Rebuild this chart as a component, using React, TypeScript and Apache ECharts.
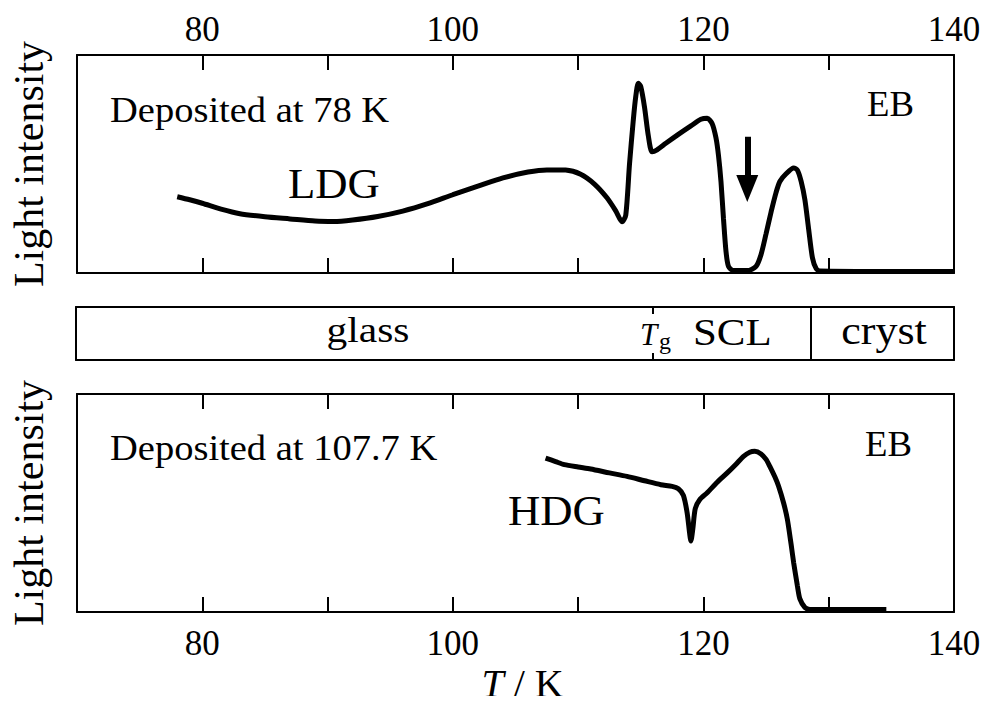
import React, { useEffect, useRef } from "react";
import * as echarts from "echarts";

// Temperature ticks (K)
const xMin = 70;
const xMax = 140;
const xStep = 10;
const labelStep = 20;

// LDG sample deposited at 78 K: [T (K), light intensity (a.u.)]
const ldgCurve: [number, number][] = [
  [78.0, 35.0], [79.0, 33.6], [80.0, 32.0], [81.5, 29.3], [83.0, 27.2], [85.0, 25.8],
  [87.0, 24.8], [89.0, 23.8], [90.5, 23.6], [92.0, 24.3], [94.0, 25.9], [96.0, 28.4],
  [98.0, 31.8], [100.0, 35.9], [102.0, 39.8], [104.0, 43.6], [106.0, 46.3], [107.5, 47.3],
  [109.0, 47.2], [110.2, 45.3], [111.3, 40.8], [112.3, 34.5], [113.0, 28.5], [113.5, 23.5],
  [113.8, 26.5], [114.1, 50.0], [114.4, 70.0], [114.6, 81.0], [114.8, 87.0], [115.0, 85.5],
  [115.3, 76.0], [115.6, 63.0], [115.9, 55.6], [116.3, 56.5], [117.0, 59.5], [118.0, 63.6],
  [119.0, 67.5], [119.8, 70.5], [120.3, 71.0], [120.7, 68.5], [121.0, 62.0], [121.2, 54.0],
  [121.4, 42.0], [121.6, 25.0], [121.8, 10.0], [122.0, 3.0], [122.4, 1.1], [123.5, 1.1],
  [124.2, 3.0], [124.6, 8.5], [125.0, 18.0], [125.4, 28.0], [125.8, 37.0], [126.1, 42.0],
  [126.6, 45.5], [127.2, 48.2], [127.5, 47.2], [127.8, 42.0], [128.1, 33.5], [128.4, 20.0],
  [128.7, 7.0], [129.0, 2.0], [129.3, 0.9], [135.0, 0.7], [140.0, 0.7],
];

// HDG sample deposited at 107.7 K
const hdgCurve: [number, number][] = [
  [107.4, 70.6], [108.2, 69.0], [108.9, 67.6], [110.0, 66.5], [111.0, 65.6], [112.5, 63.8],
  [113.9, 62.2], [115.3, 60.2], [116.6, 58.4], [117.5, 57.6], [118.0, 56.5], [118.4, 53.5],
  [118.7, 45.5], [118.9, 36.0], [119.0, 32.6], [119.15, 38.0], [119.35, 47.5], [119.7, 51.5],
  [120.3, 54.7], [121.1, 59.5], [121.9, 63.8], [122.6, 67.8], [123.2, 71.4], [123.7, 73.3],
  [124.1, 73.7], [124.6, 72.5], [125.0, 70.0], [125.3, 66.8], [125.7, 62.0], [126.0, 57.7],
  [126.4, 50.0], [126.7, 42.5], [127.0, 31.0], [127.2, 22.7], [127.5, 12.0], [127.7, 6.0],
  [128.1, 2.1], [128.5, 1.2], [131.0, 1.1], [134.6, 1.1],
];

// Phase boundaries (K)
const tg = 116.0;
const tCryst = 128.6;

// Arrow in the top panel: T, shaft top, shaft bottom, head centre
const arrowT = 123.5;
const arrowShaftTop = 62.5;
const arrowShaftBottom = 44.0;
const arrowHead = 38.8;

const FONT = "'Liberation Serif', 'Times New Roman', serif";

export default function App() {
  const ref = useRef<HTMLDivElement>(null);

  useEffect(() => {
    if (!ref.current) return;
    const chart = echarts.init(ref.current, null, { renderer: "svg" });

    const lineBlack = { show: true, onZero: false, lineStyle: { color: "#000", width: 2 } };
    const tickCommon = {
      show: true,
      inside: true,
      length: 15,
      lineStyle: { color: "#000", width: 2 },
    };
    const labelFmt = (v: number) => (v % labelStep === 0 ? String(v) : "");
    const xBase = {
      type: "value" as const,
      min: xMin,
      max: xMax,
      interval: xStep,
      splitLine: { show: false },
      axisLine: lineBlack,
    };
    const yBase = {
      type: "value" as const,
      min: 0,
      max: 100,
      splitLine: { show: false },
      axisLine: lineBlack,
      axisTick: { show: false },
      axisLabel: { show: false },
    };
    const gridBase = { left: 76, right: 34 };
    const txt = (
      text: string,
      x: number,
      y: number,
      size: number,
      sx = 1,
      align = "left",
      italic = false
    ) => ({
      type: "text",
      x,
      y,
      scaleX: sx,
      silent: true,
      style: {
        text,
        fill: "#000",
        fontSize: size,
        fontFamily: FONT,
        fontStyle: italic ? "italic" : "normal",
        align,
        verticalAlign: "middle",
      },
    });
    const yName = {
      name: "Light intensity",
      nameLocation: "middle",
      nameGap: 27,
      nameTextStyle: { fontSize: 42, fontFamily: FONT, color: "#000" },
    };

    chart.setOption({
      animation: false,
      backgroundColor: "#fff",
      textStyle: { fontFamily: FONT, color: "#000" },
      grid: [
        { ...gridBase, top: 55, height: 218 },
        { ...gridBase, top: 307, height: 53 },
        { ...gridBase, top: 394, height: 219 },
      ],
      xAxis: [
        {
          ...xBase,
          gridIndex: 0,
          position: "top",
          axisTick: tickCommon,
          axisLabel: {
            show: true,
            formatter: labelFmt,
            fontSize: 35,
            fontFamily: FONT,
            color: "#000",
            margin: 8,
          },
        },
        { ...xBase, gridIndex: 0, position: "bottom", axisTick: tickCommon, axisLabel: { show: false } },
        { ...xBase, gridIndex: 1, position: "bottom", axisTick: { show: false }, axisLabel: { show: false } },
        { ...xBase, gridIndex: 1, position: "top", axisTick: { show: false }, axisLabel: { show: false } },
        { ...xBase, gridIndex: 2, position: "top", axisTick: tickCommon, axisLabel: { show: false } },
        {
          ...xBase,
          gridIndex: 2,
          position: "bottom",
          axisTick: tickCommon,
          axisLabel: {
            show: true,
            formatter: labelFmt,
            fontSize: 35,
            fontFamily: FONT,
            color: "#000",
            margin: 14,
          },
          name: "{i|T} / K",
          nameLocation: "middle",
          nameGap: 51,
          nameTextStyle: {
            fontSize: 40,
            fontFamily: FONT,
            color: "#000",
            padding: [0, 0, 0, 14],
            rich: {
              i: { fontSize: 40, fontFamily: FONT, fontStyle: "italic", color: "#000" },
            },
          },
        },
      ],
      yAxis: [
        { ...yBase, gridIndex: 0, position: "left", ...yName },
        { ...yBase, gridIndex: 0, position: "right" },
        { ...yBase, gridIndex: 1, position: "left" },
        { ...yBase, gridIndex: 1, position: "right" },
        { ...yBase, gridIndex: 2, position: "left", ...yName },
        { ...yBase, gridIndex: 2, position: "right" },
      ],
      series: [
        {
          type: "line",
          name: "LDG",
          xAxisIndex: 0,
          yAxisIndex: 0,
          data: ldgCurve,
          showSymbol: false,
          smooth: 0.25,
          lineStyle: { color: "#000", width: 5 },
          markLine: {
            silent: true,
            animation: false,
            symbol: ["none", "none"],
            label: { show: false },
            lineStyle: { color: "#000", width: 6, type: "solid" },
            data: [[{ coord: [arrowT, arrowShaftTop] }, { coord: [arrowT, arrowShaftBottom] }]],
          },
        },
        {
          type: "scatter",
          name: "arrow",
          xAxisIndex: 0,
          yAxisIndex: 0,
          data: [[arrowT, arrowHead]],
          symbol: "triangle",
          symbolRotate: 180,
          symbolSize: [22, 27],
          itemStyle: { color: "#000", opacity: 1 },
          silent: true,
        },
        {
          type: "line",
          name: "phases",
          xAxisIndex: 2,
          yAxisIndex: 2,
          data: [[xMin, 50]],
          showSymbol: false,
          lineStyle: { opacity: 0 },
          markLine: {
            silent: true,
            animation: false,
            symbol: ["none", "none"],
            label: { show: false },
            lineStyle: { color: "#000", width: 2, type: "solid" },
            data: [
              [{ coord: [tCryst, 0] }, { coord: [tCryst, 100] }],
              [{ coord: [tg, 0] }, { coord: [tg, 13] }],
              [{ coord: [tg, 87] }, { coord: [tg, 100] }],
            ],
          },
        },
        {
          type: "line",
          name: "HDG",
          xAxisIndex: 5,
          yAxisIndex: 4,
          data: hdgCurve,
          showSymbol: false,
          smooth: 0.25,
          lineStyle: { color: "#000", width: 5 },
        },
      ],
      graphic: [
        txt("Deposited at 78 K", 110, 110, 36, 1.07),
        txt("EB", 867, 104, 35, 1.05),
        txt("LDG", 288, 183, 43, 1.04),
        txt("glass", 368, 329, 36, 1.15, "center"),
        txt("T", 640, 334, 31, 1, "left", true),
        txt("g", 659, 341, 24),
        txt("SCL", 693, 333, 37, 1.16),
        txt("cryst", 884, 331, 40, 1.1, "center"),
        txt("Deposited at 107.7 K", 110, 448, 36, 1.07),
        txt("EB", 865, 444, 35, 1.05),
        txt("HDG", 508, 510, 43, 1.04),
      ],
    });

    return () => chart.dispose();
  }, []);

  return <div ref={ref} style={{ width: 988, height: 704, margin: -8 }} />;
}
